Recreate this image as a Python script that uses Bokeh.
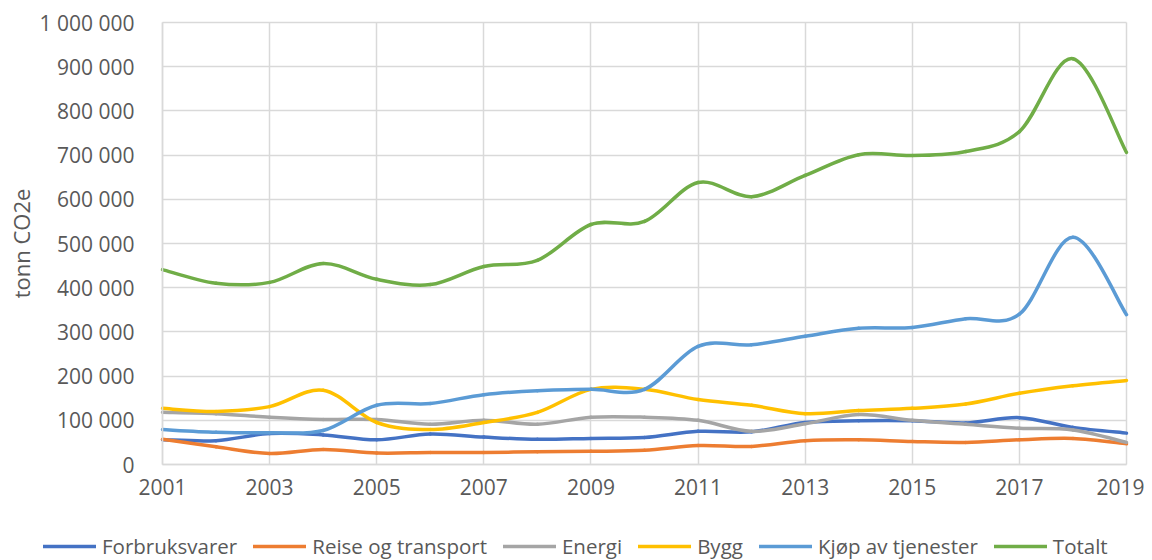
import numpy as np
from bokeh.plotting import figure
from bokeh.models import Range1d, FixedTicker, Legend, LegendItem, ColumnDataSource
from bokeh.embed import file_html
from bokeh.resources import INLINE

years = list(range(2001, 2020))
forbruksvarer = [56000, 54000, 70000, 67000, 56000, 69000, 62000, 57000, 59000, 61000,
                 75000, 74000, 95000, 99000, 99000, 94000, 106000, 84000, 71000]
reise = [57000, 40000, 25000, 34000, 26000, 27000, 27000, 29000, 30000, 32000,
         43000, 41000, 54000, 56000, 52000, 50000, 56000, 59000, 47000]
energi = [118000, 115000, 107000, 102000, 102000, 91000, 100000, 91000, 107000, 107000,
          100000, 75000, 92000, 113000, 100000, 91000, 82000, 78000, 50000]
bygg = [127000, 120000, 131000, 168000, 95000, 79000, 95000, 118000, 170000, 170000,
        147000, 134000, 115000, 122000, 127000, 137000, 161000, 178000, 190000]
kjop = [79000, 73000, 72000, 77000, 134000, 138000, 158000, 167000, 170000, 170000,
        267000, 271000, 290000, 308000, 310000, 330000, 340000, 514000, 339000]
totalt = [441000, 410000, 412000, 455000, 419000, 407000, 448000, 462000, 543000, 550000,
          638000, 606000, 654000, 701000, 699000, 708000, 753000, 918000, 706000]

names = ["Forbruksvarer", "Reise og transport", "Energi", "Bygg", "Kjøp av tjenester", "Totalt"]
colors = ["#4472C4", "#ED7D31", "#A5A5A5", "#FFC000", "#5B9BD5", "#70AD47"]
series_values = [forbruksvarer, reise, energi, bygg, kjop, totalt]

y_ticks = list(range(0, 1000001, 100000))
y_tick_labels = ["0", "100 000", "200 000", "300 000", "400 000", "500 000",
                 "600 000", "700 000", "800 000", "900 000", "1 000 000"]
x_ticks = list(range(2001, 2020, 2))

FONT = "Open Sans"
TXT = "#595959"
GRID = "#d9d9d9"
LW = 3.5

# layout (pixels inside the figure)
W, H = 1144, 560
PLOT_L, PLOT_R, PLOT_T, PLOT_B = 162, 1126, 22, 464
X0, X1 = years[0], years[-1]
Y0, Y1 = y_ticks[0], y_ticks[-1]
xpp = (X1 - X0) / (PLOT_R - PLOT_L)
ypp = (Y1 - Y0) / (PLOT_B - PLOT_T)


def smooth_segments(xs, ys):
    x = np.asarray(xs, dtype=float)
    y = np.asarray(ys, dtype=float)
    n = len(x)
    xp = np.concatenate([[x[0]], x, [x[-1]]])
    yp = np.concatenate([[y[0]], y, [y[-1]]])
    return dict(
        x0=x[:-1], y0=y[:-1], x1=x[1:], y1=y[1:],
        cx0=x[:-1] + (xp[2:n + 1] - xp[0:n - 1]) / 6.0,
        cy0=y[:-1] + (yp[2:n + 1] - yp[0:n - 1]) / 6.0,
        cx1=x[1:] - (xp[3:n + 2] - xp[1:n]) / 6.0,
        cy1=y[1:] - (yp[3:n + 2] - yp[1:n]) / 6.0,
    )


p = figure(width=W, height=H, output_backend="svg", toolbar_location=None,
           x_range=Range1d(X0 - PLOT_L * xpp, X1 + (W - PLOT_R) * xpp),
           y_range=Range1d(Y0 - (H - PLOT_B) * ypp, Y1 + PLOT_T * ypp),
           min_border=0)
p.outline_line_color = None

p.xaxis.ticker = FixedTicker(ticks=x_ticks)
p.yaxis.ticker = FixedTicker(ticks=y_ticks)
p.yaxis.major_label_overrides = {t: l for t, l in zip(y_ticks, y_tick_labels)}
p.xaxis.fixed_location = Y0
p.yaxis.fixed_location = X0
p.xaxis.bounds = (X0, X1)
p.yaxis.bounds = (Y0, Y1)

for ax in (p.xaxis, p.yaxis):
    ax.axis_line_color = GRID
    ax.axis_line_width = 1.5
    ax.major_tick_line_color = None
    ax.minor_tick_line_color = None
    ax.major_label_text_font = FONT
    ax.major_label_text_font_size = "21px"
    ax.major_label_text_color = TXT
p.xaxis.major_label_standoff = 8
p.yaxis.major_label_standoff = 22
p.yaxis.axis_label = "tonn CO2e"
p.yaxis.axis_label_text_font = FONT
p.yaxis.axis_label_text_font_size = "22px"
p.yaxis.axis_label_text_font_style = "normal"
p.yaxis.axis_label_text_color = TXT
p.yaxis.axis_label_standoff = 1

p.xgrid.grid_line_color = GRID
p.ygrid.grid_line_color = GRID
p.xgrid.grid_line_width = 1.5
p.ygrid.grid_line_width = 1.5
p.xgrid.bounds = (X0, X1)
p.xgrid.cross_bounds = (Y0, Y1)
p.ygrid.bounds = (Y0, Y1)
p.ygrid.cross_bounds = (X0, X1)

items = []
for name, vals, col in zip(names, series_values, colors):
    src = ColumnDataSource(smooth_segments(years, vals))
    r = p.bezier(x0="x0", y0="y0", x1="x1", y1="y1", cx0="cx0", cy0="cy0",
                 cx1="cx1", cy1="cy1", source=src, line_color=col, line_width=LW,
                 line_cap="round")
    items.append(LegendItem(label=name, renderers=[r]))

legend = Legend(items=items, orientation="horizontal", location=(43, 0),
                glyph_width=53, glyph_height=20, label_standoff=6, spacing=16,
                padding=0, margin=0, border_line_color=None, background_fill_alpha=0,
                label_text_font=FONT, label_text_font_size="20.5px", label_text_color=TXT)
p.add_layout(legend)

open("out.html", "w").write(file_html(p, INLINE))
